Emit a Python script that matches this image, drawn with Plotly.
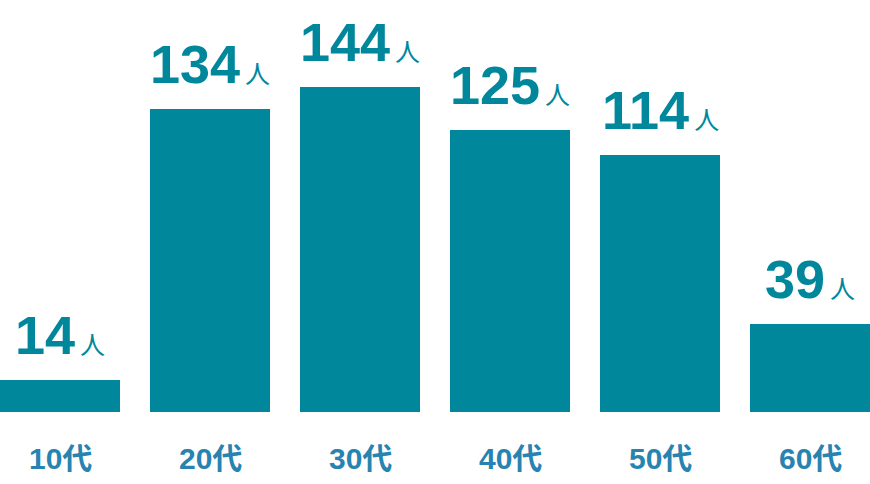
import plotly.graph_objects as go

categories = ["10代", "20代", "30代", "40代", "50代", "60代"]
values = [14, 134, 144, 125, 114, 39]
unit = "人"

BAR = "#00879c"
LABEL = "#2784b1"

x = list(range(len(categories)))

fig = go.Figure()
fig.add_trace(go.Bar(x=x, y=values, width=0.8, marker=dict(color=BAR, line=dict(width=0)),
                     hoverinfo="skip"))

num_font = "Liberation Sans, Arial, sans-serif"
for xi, v in zip(x, values):
    fig.add_annotation(
        x=xi, y=v, xref="x", yref="y",
        text=f"<b>{v}</b><span style='font-size:25px;font-family:Noto Sans CJK JP'>\u2009{unit}</span>",
        showarrow=False, yanchor="bottom", xanchor="center", yshift=13,
        font=dict(family=num_font, size=54, color=BAR),
    )

for xi, c in zip(x, categories):
    fig.add_annotation(
        x=xi, y=0, xref="x", yref="paper",
        text=f"<b>{c}</b>", showarrow=False, yanchor="middle", xanchor="center", yshift=-46,
        font=dict(family="Liberation Sans, Noto Sans CJK JP, sans-serif", size=30, color=LABEL),
    )

fig.update_layout(
    width=870, height=484,
    margin=dict(l=0, r=0, t=0, b=72),
    paper_bgcolor="white", plot_bgcolor="white",
    showlegend=False, bargap=0,
    xaxis=dict(range=[-0.4, 5.4], visible=False, fixedrange=True),
    yaxis=dict(range=[0, 182.5], visible=False, fixedrange=True),
)

fig.write_html("out.html", config={"displayModeBar": False},
               post_script="document.body.style.margin='0';document.body.style.padding='0';")
